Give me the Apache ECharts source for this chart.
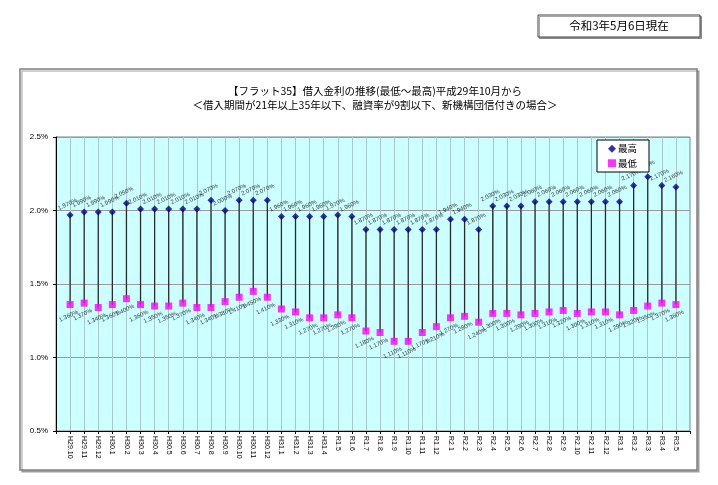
<!DOCTYPE html>
<html>
<head>
<meta charset="utf-8">
<script src="https://cdn.jsdelivr.net/npm/echarts@6/dist/echarts.min.js"></script>
<style>
  html, body { margin: 0; padding: 0; background: #fff; }
  #chart { width: 718px; height: 485px; }
</style>
</head>
<body>
<div id="chart"></div>
<script>
"use strict";
/* flat35 rate history: monthly max / min, Oct 2017 (H29.10) to May 2021 (R3.5) */
const months = [
  "H29.10", "H29.11", "H29.12",
  "H30.1", "H30.2", "H30.3", "H30.4", "H30.5", "H30.6", "H30.7", "H30.8", "H30.9", "H30.10", "H30.11", "H30.12",
  "H31.1", "H31.2", "H31.3", "H31.4",
  "R1.5", "R1.6", "R1.7", "R1.8", "R1.9", "R1.10", "R1.11", "R1.12",
  "R2.1", "R2.2", "R2.3", "R2.4", "R2.5", "R2.6", "R2.7", "R2.8", "R2.9", "R2.10", "R2.11", "R2.12",
  "R3.1", "R3.2", "R3.3", "R3.4", "R3.5"
];
const maxRates = [
  1.97, 1.99, 1.99,
  1.99, 2.05, 2.01, 2.01, 2.01, 2.01, 2.01, 2.07, 2.00, 2.07, 2.07, 2.07,
  1.96, 1.96, 1.96, 1.96,
  1.97, 1.96, 1.87, 1.87, 1.87, 1.87, 1.87, 1.87,
  1.94, 1.94, 1.87, 2.03, 2.03, 2.03, 2.06, 2.06, 2.06, 2.06, 2.06, 2.06,
  2.06, 2.17, 2.23, 2.17, 2.16
];
const minRates = [
  1.36, 1.37, 1.34,
  1.36, 1.40, 1.36, 1.35, 1.35, 1.37, 1.34, 1.34, 1.38, 1.41, 1.45, 1.41,
  1.33, 1.31, 1.27, 1.27,
  1.29, 1.27, 1.18, 1.17, 1.11, 1.11, 1.17, 1.21,
  1.27, 1.28, 1.24, 1.30, 1.30, 1.29, 1.30, 1.31, 1.32, 1.30, 1.31, 1.31,
  1.29, 1.32, 1.35, 1.37, 1.36
];
const yMin = 0.5, yMax = 2.5, yStep = 0.5;
const titleLines = [
  "【フラット35】借入金利の推移(最低～最高)平成29年10月から",
  "＜借入期間が21年以上35年以下、融資率が9割以下、新機構団信付きの場合＞"
];
const asOf = "令和3年5月6日現在";

// one empty slot at each end, like the original axis
const axisCats = ["", ...months, ""];
const pct = (v) => v.toFixed(3) + "%";
const JP = "'Noto Sans CJK JP', sans-serif";
const NUM = "'Liberation Sans Narrow', 'Liberation Sans', Arial, sans-serif";

const chart = echarts.init(document.getElementById("chart"), null, { renderer: "canvas" });

chart.setOption({
  animation: false,
  backgroundColor: "#fff",
  textStyle: { fontFamily: NUM },
  graphic: [
    { type: "rect", z: -10, silent: true,
      shape: { x: 20, y: 69, width: 677, height: 401 },
      style: { fill: "#fff", stroke: "#7f7f7f", lineWidth: 1.5, shadowColor: "rgba(0,0,0,0.25)", shadowOffsetX: 2, shadowOffsetY: 2 } },
    { type: "rect", z: -10, silent: true,
      shape: { x: 538, y: 15, width: 162, height: 22 },
      style: { fill: "#fff", stroke: "#404040", lineWidth: 1, shadowColor: "rgba(0,0,0,0.35)", shadowOffsetX: 1.5, shadowOffsetY: 1.5 } },
    { type: "text", silent: true, x: 619, y: 26,
      style: { text: asOf, font: "11.5px " + JP, fill: "#000", align: "center", verticalAlign: "middle" } },
    { type: "text", silent: true, x: 375, y: 91,
      style: { text: titleLines[0], font: "10.5px " + JP, fill: "#000", align: "center", verticalAlign: "middle" } },
    { type: "text", silent: true, x: 375, y: 105,
      style: { text: titleLines[1], font: "10.5px " + JP, fill: "#000", align: "center", verticalAlign: "middle" } }
  ],
  legend: {
    orient: "vertical", left: 597, top: 140,
    data: ["最高", "最低"],
    backgroundColor: "#fff", borderColor: "#000", borderWidth: 1, borderRadius: 0,
    padding: [4, 12, 4, 11], itemGap: 5, itemWidth: 8, itemHeight: 8,
    textStyle: { fontFamily: JP, fontSize: 9.5, color: "#000", padding: [0, 0, 0, -3] }
  },
  grid: {
    left: 56, right: 28, top: 137, bottom: 54,
    show: true, backgroundColor: "#ccffff", borderColor: "#808080", borderWidth: 1
  },
  xAxis: {
    type: "category", data: axisCats, boundaryGap: false,
    axisLine: { lineStyle: { color: "#000", width: 1 } },
    axisTick: { show: true, interval: 0, length: 3, lineStyle: { color: "#000" } },
    axisLabel: { interval: 0, rotate: -90, fontSize: 7, margin: 5, color: "#000", fontFamily: NUM },
    splitLine: { show: true, interval: 0, lineStyle: { color: "#a9c9c9", width: 1 } }
  },
  yAxis: {
    type: "value", min: yMin, max: yMax, interval: yStep,
    axisLine: { show: true, lineStyle: { color: "#000", width: 1 } },
    axisTick: { show: true, length: 3, lineStyle: { color: "#000" } },
    axisLabel: { formatter: (v) => v.toFixed(1) + "%", fontSize: 8, margin: 8, color: "#000", fontFamily: NUM },
    splitLine: { lineStyle: { color: "#9a9a9a", width: 1 } }
  },
  series: [
    {
      name: "stem", type: "custom", z: 1, silent: true,
      encode: { x: 0, y: [1, 2] },
      data: months.map((m, i) => [i + 1, maxRates[i], minRates[i]]),
      renderItem: (params, api) => {
        const hi = api.coord([api.value(0), api.value(1)]);
        const lo = api.coord([api.value(0), api.value(2)]);
        return { type: "line",
          shape: { x1: hi[0], y1: hi[1], x2: lo[0], y2: lo[1] },
          style: { stroke: "#2b2b2b", lineWidth: 1.3 } };
      }
    },
    {
      name: "最高", type: "scatter", z: 3,
      symbol: "diamond", symbolSize: 7,
      itemStyle: { color: "#000080" },
      data: maxRates.map((v, i) => [i + 1, v]),
      label: {
        show: true, formatter: (p) => pct(p.value[1]),
        position: [1, -7], align: "center", verticalAlign: "middle", rotate: 25,
        fontSize: 6, color: "#000", fontFamily: NUM
      }
    },
    {
      name: "最低", type: "scatter", z: 3,
      symbol: "rect", symbolSize: 7,
      itemStyle: { color: "#ff00ff" },
      data: minRates.map((v, i) => [i + 1, v]),
      label: {
        show: true, formatter: (p) => pct(p.value[1]),
        position: [2, 15], align: "center", verticalAlign: "middle", rotate: 25,
        fontSize: 6, color: "#000", fontFamily: NUM
      }
    }
  ]
});
</script>
</body>
</html>
